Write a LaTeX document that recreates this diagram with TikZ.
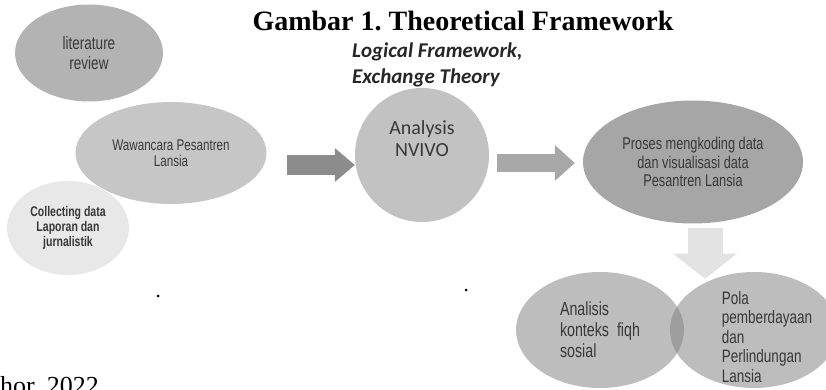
\documentclass[tikz,border=0pt]{standalone}
\usepackage{fontspec}
\setmainfont{Liberation Serif}
\newfontfamily\condfont[FakeStretch=0.75]{Liberation Sans}
\newfontfamily\calfont{Carlito}
\usetikzlibrary{shapes.geometric,arrows.meta}
\definecolor{litgray}{HTML}{B3B3B3}
\definecolor{wawgray}{HTML}{C6C6C6}
\definecolor{colgray}{HTML}{E8E8E8}
\definecolor{nvgray}{HTML}{C2C2C2}
\definecolor{progray}{HTML}{A6A6A6}
\definecolor{endgray}{HTML}{BDBDBD}
\definecolor{lensgray}{HTML}{9E9E9E}
\definecolor{inkgray}{HTML}{383838}
\newcommand{\bubblefont}[2]{\condfont\fontsize{#1}{#2}\selectfont}
\frenchspacing
\begin{document}
\begin{tikzpicture}[x=1pt,y=-1pt,
  bubble/.style={ellipse,inner sep=0pt,align=center,text=inkgray},
  fatarrow/.style={line width=20pt,-{Triangle[length=20pt,width=34pt,line width=0pt]}},
  slimarrow/.style={line width=17pt,-{Triangle[length=20pt,width=36pt,line width=0pt]}},
  downarrow/.style={line width=35pt,-{Triangle[length=25pt,width=64pt,line width=0pt]}}]
\useasboundingbox (0,0) rectangle (826,390);
\clip (0,0) rectangle (826,390);
% heading
\node[anchor=base,inner sep=0pt,font=\fontsize{28}{32}\selectfont\bfseries] (title) at (463,31) {Gambar 1. Theoretical Framework};
\node[anchor=base west,inner sep=0pt,text=black!85,font=\calfont\bfseries\itshape\fontsize{21}{24}\selectfont] (logical) at (352,58) {Logical Framework,};
\node[anchor=base west,inner sep=0pt,text=black!85,font=\calfont\bfseries\itshape\fontsize{21}{24}\selectfont] (exchange) at (352,84) {Exchange Theory};
% sources
\node[bubble,fill=litgray,minimum width=148pt,minimum height=97pt,font=\bubblefont{18}{20}] (litreview) at (89,53) {literature\\review};
\node[bubble,fill=wawgray,minimum width=191pt,minimum height=102pt,font=\bubblefont{15.5}{16}] (wawancara) at (171,153) {Wawancara Pesantren\\Lansia};
\node[bubble,fill=colgray,minimum width=122pt,minimum height=94pt,font=\bubblefont{14}{15}\bfseries] (collecting) at (68,228) {Collecting data\\Laporan dan\\jurnalistik};
% analysis
\node[circle,fill=nvgray,minimum size=134pt,inner sep=0pt] (nvivo) at (422,155) {};
\node[align=center,text=inkgray,font=\calfont\fontsize{20}{22}\selectfont] (nvivotext) at (422,139) {Analysis\\NVIVO};
\node[bubble,fill=progray,minimum width=220pt,minimum height=123pt,font=\bubblefont{17}{18.5}] (proses) at (693,162) {Proses mengkoding data\\dan visualisasi data\\Pesantren Lansia};
% results
\node[bubble,fill=endgray,minimum width=168pt,minimum height=116pt,align=left,font=\bubblefont{19}{21}] (analisis) at (600,330) {Analisis\\konteks\ \ fiqh\\sosial};
\node[bubble,fill=endgray,minimum width=168pt,minimum height=116pt] (pola) at (754,330) {};
\begin{scope}
\clip (analisis.center) ellipse [x radius=84, y radius=58];
\fill[lensgray] (pola.center) ellipse [x radius=84, y radius=58];
\end{scope}
\node[align=left,text=inkgray,font=\bubblefont{18}{19.5}] (polatext) at (767,337) {Pola\\pemberdayaan\\dan\\Perlindungan\\Lansia};
% arrows
\coordinate (start1) at (287,165);
\coordinate (start2) at (497,163);
\draw[fatarrow,draw=black!45,fill=black!45] (start1) -- (start1 -| nvivo.west);
\draw[slimarrow,draw=black!34,fill=black!34,shorten >=8pt] (start2) -- (start2 -| proses.west);
\draw[downarrow,draw=black!11,fill=black!11] ([xshift=12pt,yshift=-4pt]proses.south) -- ++(0,51);
% stray marks
\fill (158,296) circle (1.5);
\fill (466,290) circle (1.5);
\node[anchor=base west,inner sep=0pt,font=\fontsize{26}{28}\selectfont] (source) at (0,394) {hor, 2022};
\end{tikzpicture}
\end{document}
